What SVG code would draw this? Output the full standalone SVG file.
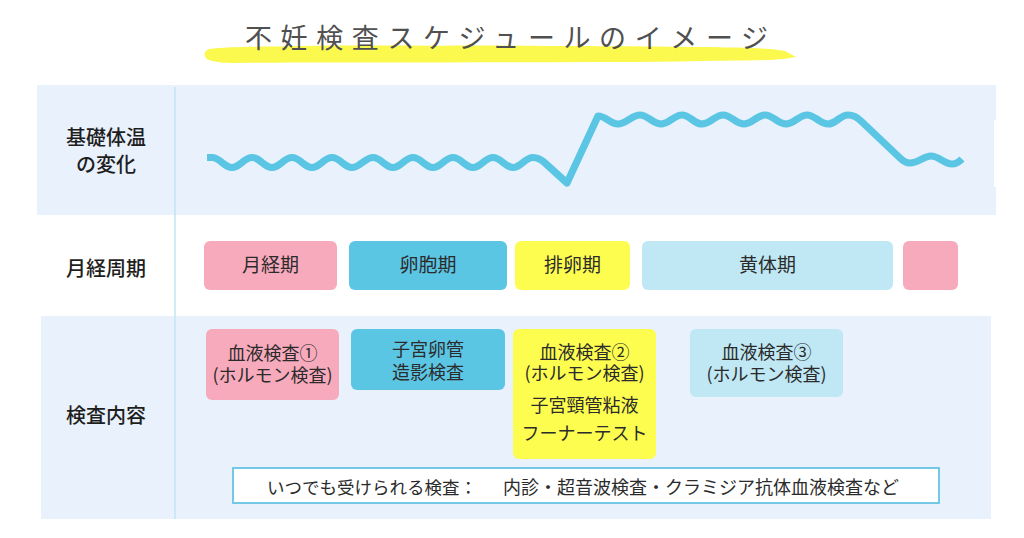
<svg xmlns="http://www.w3.org/2000/svg" width="1024" height="538" viewBox="0 0 1024 538">
<style>
text{font-family:"Noto Sans CJK JP","Noto Sans",sans-serif;fill:#2b2b2b}
.title{font-size:27px;fill:#505050;letter-spacing:8.6px}
.row{font-size:20px;font-weight:500;text-anchor:middle;fill:#1e1e1e}
.ph{font-size:19px;text-anchor:middle}
.tx{font-size:18px;text-anchor:middle}
.band{fill:#e9f1fc}
.pink{fill:#f8aabd}
.blue{fill:#5bc5e4}
.yellow{fill:#fdfd4f}
.lblue{fill:#bfe7f4}
</style>
<rect width="1024" height="538" fill="#ffffff"/>

<g id="title">
<path d="M209,49 C230,46 260,47 300,46 C360,45 420,46 480,45.5 C560,46 640,46 700,47 C740,47.5 770,48 785,51 L796,57 L784,59 C760,61 720,60.5 680,61.5 C600,62.5 520,62 440,62.5 C360,62.5 290,62 240,63 C225,63.3 212,62 207,59 C203,56 204,51 209,49 Z" fill="#fbf84e"/>
<text class="title" x="245" y="48">不妊検査スケジュールのイメージ</text>
</g>

<g id="bands">
<rect class="band" x="37" y="85" width="959" height="130"/>
<rect x="994" y="120" width="2" height="67" fill="#ffffff"/>
<rect class="band" x="41" y="316" width="950" height="203"/>
<line x1="175" y1="87" x2="175" y2="519" stroke="#c2e4f4" stroke-width="1.5"/>
</g>

<g id="row-labels">
<text class="row" x="106" y="145">基礎体温<tspan x="106" y="172">の変化</tspan></text>
<text class="row" x="106" y="276">月経周期</text>
<text class="row" x="106" y="423">検査内容</text>
</g>

<g id="temperature-curve">
<path fill="none" stroke="#5bc5e4" stroke-width="7.2" stroke-linejoin="round" stroke-linecap="butt"
d="M207,157.5 L212,157.5 C220,157.5 224,167.5 232,167.5 S244,157.5 252,157.5 S264,167.5 272,167.5 S284,157.5 292,157.5 S304,167.5 312,167.5 S324,157.5 332,157.5 S344,167.5 352,167.5 S365,157.5 373,157.5 S385,167.5 393,167.5 S405,157.5 413,157.5 S425,167.5 433,167.5 S445,157.5 453,157.5 S465,167.5 473,167.5 S485,157.5 493,157.5 S505,167.5 513,167.5 S525,157.5 533,157.5 Q539,157.5 545,163 L567,183 L598,116 C606,116 610,124 618,124 S632,115 640,115 S653,124 661,124 S674,115 682,115 S694,124 702,124 S715,115 723,115 S736,124 744,124 S757,115 765,115 S778,124 786,124 S799,115 807,115 S820,124 828,124 S840,115 848,115 Q855,115 861,121 L900,158 Q905,163 910,163 C918,163 924,156 931,156 C939,156 944,164 952,164 C957,164 960,161 962,159"/>
</g>

<g id="phase-menstrual"><rect class="pink" x="204" y="241" width="133" height="49" rx="6"/><text class="ph" x="270.5" y="272">月経期</text></g>
<g id="phase-follicular"><rect class="blue" x="349" y="241" width="158" height="49" rx="6"/><text class="ph" x="428" y="272">卵胞期</text></g>
<g id="phase-ovulation"><rect class="yellow" x="515" y="241" width="115" height="49" rx="6"/><text class="ph" x="572.5" y="272">排卵期</text></g>
<g id="phase-luteal"><rect class="lblue" x="642" y="241" width="251" height="49" rx="6"/><text class="ph" x="767.5" y="272">黄体期</text></g>
<g id="phase-menstrual-next"><rect class="pink" x="903" y="241" width="55" height="49" rx="6"/></g>

<g id="test-blood1"><rect class="pink" x="206" y="329" width="133" height="71" rx="6"/>
<text class="tx" x="272.5" y="360">血液検査①<tspan x="272.5" y="382">(ホルモン検査)</tspan></text></g>
<g id="test-hsg"><rect class="blue" x="351" y="329" width="154" height="61" rx="6"/>
<text class="tx" x="428" y="356">子宮卵管<tspan x="428" y="379">造影検査</tspan></text></g>
<g id="test-ovulation"><rect class="yellow" x="513" y="329" width="143" height="130" rx="6"/>
<text class="tx" x="584.5" y="359">血液検査②<tspan x="584.5" y="380">(ホルモン検査)</tspan><tspan x="584.5" y="412">子宮頸管粘液</tspan><tspan x="584.5" y="440">フーナーテスト</tspan></text></g>
<g id="test-blood3"><rect class="lblue" x="690" y="329" width="153" height="68" rx="6"/>
<text class="tx" x="766.5" y="359">血液検査③<tspan x="766.5" y="381">(ホルモン検査)</tspan></text></g>

<g id="anytime-tests"><rect x="233" y="468" width="706" height="35" fill="#ffffff" stroke="#67c4e4" stroke-width="1.8"/>
<text style="font-size:17.5px" x="267" y="494">いつでも受けられる検査：<tspan style="font-size:18px" x="503">内診・超音波検査・クラミジア抗体血液検査など</tspan></text></g>

<g id="connectors"></g>
</svg>
